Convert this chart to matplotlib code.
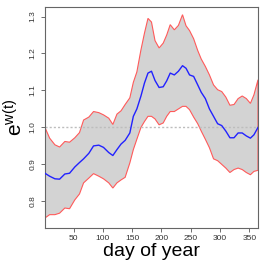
import matplotlib
matplotlib.use("Agg")
import matplotlib.pyplot as plt

plt.rcParams["font.family"] = ["Liberation Sans", "DejaVu Sans"]
plt.rcParams["mathtext.fontset"] = "custom"
plt.rcParams["mathtext.rm"] = "Liberation Sans"
plt.rcParams["mathtext.it"] = "Liberation Sans"

# jour de l'annee et courbes
jours = [1, 9, 18, 26, 35, 43, 52, 60, 67, 76, 84, 93, 101, 110, 117, 124, 131,
         138, 146, 152, 158, 165, 171, 177, 183, 189, 196, 203, 209, 215, 222,
         229, 236, 242, 248, 255, 262, 268, 275, 282, 289, 296, 303, 310, 317,
         324, 331, 338, 345, 352, 358, 365]

borne_haute = [1.000, 0.971, 0.953, 0.947, 0.962, 0.960, 0.972, 0.986, 1.020,
               1.028, 1.043, 1.040, 1.034, 1.025, 1.008, 1.036, 1.045, 1.062,
               1.080, 1.122, 1.150, 1.210, 1.255, 1.295, 1.285, 1.235, 1.215,
               1.228, 1.250, 1.278, 1.264, 1.276, 1.305, 1.275, 1.262, 1.240,
               1.208, 1.185, 1.165, 1.142, 1.115, 1.102, 1.097, 1.082, 1.060,
               1.062, 1.078, 1.085, 1.078, 1.065, 1.088, 1.129]

moyenne = [0.876, 0.868, 0.861, 0.860, 0.874, 0.876, 0.893, 0.905, 0.915, 0.930,
           0.950, 0.952, 0.946, 0.932, 0.924, 0.940, 0.955, 0.965, 0.985, 1.030,
           1.050, 1.085, 1.120, 1.147, 1.152, 1.127, 1.108, 1.110, 1.126, 1.147,
           1.142, 1.152, 1.167, 1.160, 1.142, 1.138, 1.115, 1.095, 1.078, 1.050,
           1.030, 1.010, 1.005, 0.990, 0.972, 0.972, 0.985, 0.985, 0.977, 0.971,
           0.980, 1.000]

borne_basse = [0.755, 0.764, 0.764, 0.768, 0.782, 0.780, 0.804, 0.820, 0.850,
               0.863, 0.875, 0.868, 0.861, 0.850, 0.836, 0.850, 0.858, 0.865,
               0.904, 0.940, 0.968, 1.000, 1.016, 1.030, 1.030, 1.023, 1.007,
               1.012, 1.030, 1.043, 1.043, 1.050, 1.057, 1.057, 1.048, 1.028,
               1.010, 0.990, 0.968, 0.945, 0.915, 0.910, 0.900, 0.890, 0.878,
               0.886, 0.890, 0.886, 0.878, 0.872, 0.881, 0.884]

x_ticks = [50, 100, 150, 200, 250, 300, 350]
y_ticks = [0.8, 0.9, 1.0, 1.1, 1.2, 1.3]

fig = plt.figure(figsize=(2.66, 2.66), dpi=100)
ax = fig.add_axes([0.169, 0.143, 0.801, 0.831])

# enveloppe grise bordee de rouge
ax.fill(jours + jours[::-1], borne_haute + borne_basse[::-1],
        facecolor="#d3d3d3", edgecolor="#ff5a5a", linewidth=0.8, zorder=1)
ax.axhline(1.0, color="#bdbdbd", linestyle=(0, (1.5, 1.5)), linewidth=1.0, zorder=2)
ax.plot(jours, moyenne, color="#2222ff", linewidth=1.0, zorder=3)

ax.set_xlim(1, 365)
ax.set_ylim(0.728, 1.326)
ax.set_xticks(x_ticks)
ax.set_yticks(y_ticks)
ax.set_yticklabels([str(v) for v in y_ticks], rotation=90, va="center")
ax.tick_params(axis="both", labelsize=6, length=3, width=0.6, color="#555555",
               labelcolor="#333333")
ax.tick_params(axis="x", pad=2)
ax.tick_params(axis="y", pad=3)
for s in ax.spines.values():
    s.set_color("#666666")
    s.set_linewidth(0.8)

ax.set_xlabel("day of year", fontsize=14, labelpad=1)
ax.set_ylabel(r"$\mathrm{e}^{\mathrm{w(t)}}$", fontsize=15, labelpad=2)

plt.savefig("out.png", dpi=100)
